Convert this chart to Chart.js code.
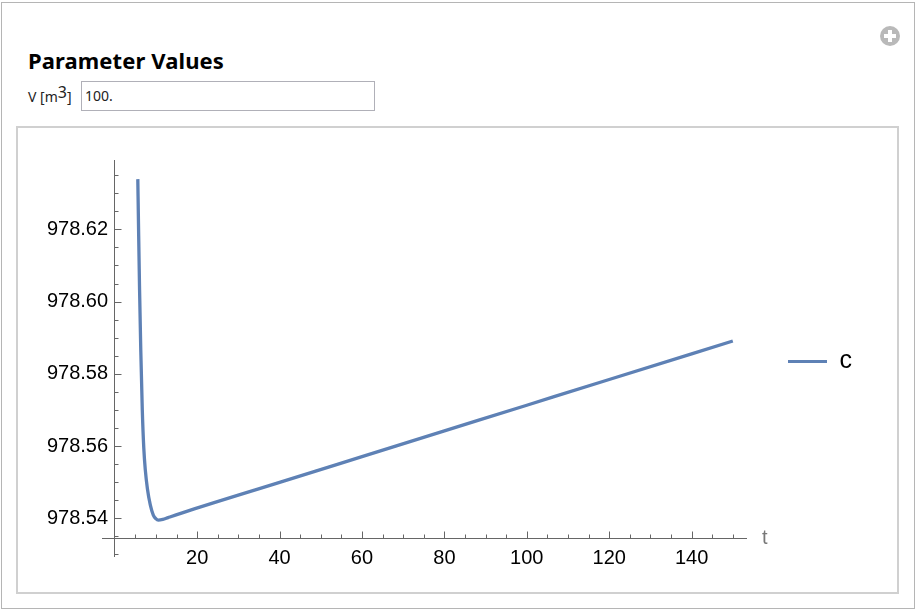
<!DOCTYPE html>
<html>
<head>
<meta charset="utf-8">
<title>Parameter Values</title>
<script src="https://cdn.jsdelivr.net/npm/chart.js@4"></script>
<style>
  html,body{margin:0;padding:0;background:#fff;width:916px;height:614px;overflow:hidden}
  .box{position:absolute;box-sizing:border-box}
  #outer{left:1px;top:2px;width:914px;height:607px;border:1px solid #b5b5b5}
  #inner{left:16px;top:126px;width:883px;height:468px;border:2px solid #d0d0d0}
  #heading{position:absolute;left:28px;top:45px;font:bold 22px "Noto Sans",sans-serif;color:#000;line-height:30px;white-space:nowrap;letter-spacing:0.1px}
  #vlabel{position:absolute;left:28px;top:87px;font:14px "Noto Sans",sans-serif;color:#222;line-height:20px;white-space:nowrap}
  #vlabel sup{font-size:16px;line-height:0;vertical-align:4px}
  #field{left:81px;top:81px;width:294px;height:30px;border:1px solid #b0b0b8;font:14px "Noto Sans",sans-serif;color:#222;line-height:28px;padding-left:3px}
  #plus{left:880px;top:26px;width:20px;height:20px;border-radius:50%;background:#b9b9b9}
  #plus i{position:absolute;background:#fff;display:block}
  #plus i.h{left:4px;top:8px;width:12px;height:4px}
  #plus i.v{left:8px;top:4px;width:4px;height:12px}
  canvas{position:absolute;left:0;top:0}
</style>
</head>
<body>
<div class="box" id="outer"></div>
<div class="box" id="inner"></div>
<div id="heading">Parameter Values</div>
<div id="vlabel">V [m<sup>3</sup>]</div>
<div class="box" id="field">100.</div>
<div class="box" id="plus"><i class="h"></i><i class="v"></i></div>
<canvas id="chart" width="916" height="614"></canvas>
<script>
const seriesName = 'c';
const tValues = [5.59, 5.78, 6.02, 6.31, 6.68, 7.04, 7.41, 7.92, 8.62, 9.35, 9.96, 10.56, 11.66, 12.94, 18.2, 40, 60, 80, 100, 120, 150];
const cValues = [978.6339, 978.6198, 978.6032, 978.5866, 978.5700, 978.5595, 978.5534, 978.5482, 978.5437, 978.5409, 978.5399, 978.5395, 978.5397, 978.5402, 978.5422, 978.54996, 978.55708, 978.5642, 978.57132, 978.57844, 978.5891];
const xMajorTicks = [20, 40, 60, 80, 100, 120, 140];
const xMinorTicks = [5, 10, 15, 25, 30, 35, 45, 50, 55, 65, 70, 75, 85, 90, 95, 105, 110, 115, 125, 130, 135, 145, 150];
const yMajorTicks = [978.54, 978.56, 978.58, 978.60, 978.62];
const yMinorTicks = [978.53, 978.535, 978.545, 978.55, 978.555, 978.565, 978.57, 978.575, 978.585, 978.59, 978.595, 978.605, 978.61, 978.615, 978.625, 978.63, 978.635];
const xAxisName = 't';

const lineColor = '#5E81B5';
const axisColor = '#666666';
const font = '"Liberation Sans", Arial, sans-serif';
const xAxisCrossing = 978.5345;

const axisTicks = {
  id: 'axisTicks',
  afterLayout(chart) { chart.legend.top += 6; },
  afterDatasetsDraw(chart) {
    const {ctx, scales: {x, y}} = chart;
    const x0 = Math.round(x.getPixelForValue(0)) - 0.5;
    const y0 = Math.round(y.getPixelForValue(xAxisCrossing)) + 0.5;
    ctx.save();
    ctx.strokeStyle = axisColor;
    ctx.lineWidth = 1;
    ctx.beginPath();
    ctx.moveTo(x0, y.top); ctx.lineTo(x0, y.bottom);
    const mark = (vals, len, horizontal) => vals.forEach(v => {
      if (horizontal) {
        const p = Math.round(x.getPixelForValue(v)) + 0.5;
        ctx.moveTo(p, y0); ctx.lineTo(p, y0 - len);
      } else {
        const p = Math.round(y.getPixelForValue(v)) + 0.5;
        ctx.moveTo(x0, p); ctx.lineTo(x0 + len, p);
      }
    });
    mark(xMajorTicks, 7, true);
    mark(xMinorTicks, 4, true);
    mark(yMajorTicks, 7, false);
    mark(yMinorTicks, 4, false);
    ctx.stroke();
    ctx.fillStyle = '#777777';
    ctx.font = '20px ' + font;
    ctx.textAlign = 'left';
    ctx.textBaseline = 'middle';
    ctx.fillText(xAxisName, x.right + 16, y0);
    ctx.restore();
  }
};

new Chart(document.getElementById('chart'), {
  type: 'line',
  data: {
    datasets: [{
      label: seriesName,
      data: tValues.map((t, i) => ({x: t, y: cValues[i]})),
      borderColor: lineColor,
      backgroundColor: lineColor,
      borderWidth: 3.3,
      pointRadius: 0,
      cubicInterpolationMode: 'monotone',
      clip: false
    }]
  },
  plugins: [axisTicks],
  options: {
    responsive: false,
    animation: false,
    layout: {padding: {left: 102, top: 160, bottom: 57, right: 54}},
    plugins: {
      tooltip: {enabled: false},
      title: {display: false},
      legend: {
        position: 'right',
        labels: {
          boxWidth: 39,
          boxHeight: 3,
          padding: 42,
          color: '#000',
          font: {family: font, size: 25},
          generateLabels: c => c.data.datasets.map((d, i) => ({
            text: d.label, fillStyle: d.borderColor, strokeStyle: d.borderColor,
            lineWidth: 0, datasetIndex: i
          }))
        }
      }
    },
    scales: {
      x: {
        type: 'linear',
        min: -3.1,
        max: 153.2,
        position: {y: xAxisCrossing},
        afterBuildTicks: s => { s.ticks = xMajorTicks.map(v => ({value: v})); },
        grid: {display: false, drawTicks: false},
        border: {display: true, color: axisColor, width: 1},
        ticks: {color: '#000', font: {family: font, size: 20}, padding: 8, maxRotation: 0, autoSkip: false, callback: v => String(v)}
      },
      y: {
        type: 'linear',
        min: 978.5293,
        max: 978.6392,
        position: {x: -1.63},
        afterBuildTicks: s => { s.ticks = yMajorTicks.map(v => ({value: v})); },
        grid: {display: false, drawTicks: false},
        border: {display: false},
        ticks: {color: '#000', font: {family: font, size: 20}, autoSkip: false, callback: v => v.toFixed(2)}
      }
    }
  }
});
</script>
</body>
</html>
